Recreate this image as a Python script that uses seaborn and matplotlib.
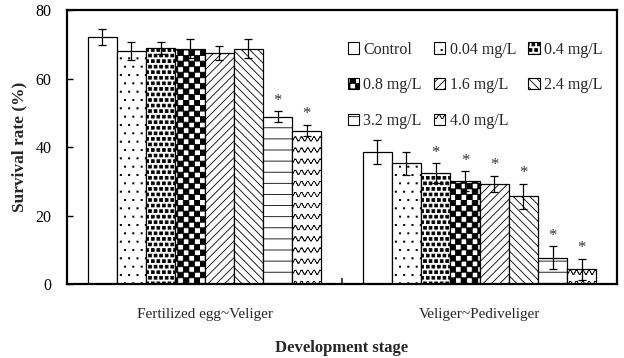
import warnings
warnings.filterwarnings("ignore")
import numpy as np
import pandas as pd
import matplotlib
matplotlib.use("Agg")
import matplotlib.pyplot as plt
import matplotlib.hatch as mhatch
from matplotlib.path import Path
from matplotlib.patches import Patch
import seaborn as sns

# ---------------- data ----------------
stages = ["Fertilized egg~Veliger", "Veliger~Pediveliger"]
treatments = ["Control", "0.04 mg/L", "0.4 mg/L", "0.8 mg/L",
              "1.6 mg/L", "2.4 mg/L", "3.2 mg/L", "4.0 mg/L"]
mean_stage1 = [72.2, 68.0, 69.0, 68.7, 67.4, 68.7, 48.9, 44.8]
err_stage1 = [2.3, 2.7, 1.7, 2.7, 2.1, 2.7, 1.5, 1.7]
mean_stage2 = [38.6, 35.2, 32.3, 30.1, 29.2, 25.6, 7.7, 4.3]
err_stage2 = [3.5, 3.4, 2.9, 2.8, 2.4, 3.6, 3.3, 3.0]
sig_stage1 = [False, False, False, False, False, False, True, True]
sig_stage2 = [False, False, True, True, True, True, True, True]
yticks = [0, 20, 40, 60, 80]


# ---------------- custom hatches ----------------
class CheckerHatch(mhatch.HatchPatternBase):
    def __init__(self, hatch, density):
        self.n = hatch.count('c') * density
        self.cells = [(i, j) for i in range(self.n) for j in range(self.n)
                      if (i + j) % 2 == 0]
        self.num_vertices = len(self.cells) * 5 if self.n else 0

    def set_vertices_and_codes(self, vertices, codes):
        s = 1.0 / self.n
        k = 0
        for i, j in self.cells:
            x0, y0 = i * s, j * s
            vertices[k:k + 5] = [[x0, y0], [x0 + s, y0], [x0 + s, y0 + s],
                                 [x0, y0 + s], [x0, y0]]
            codes[k:k + 5] = [Path.MOVETO, Path.LINETO, Path.LINETO,
                              Path.LINETO, Path.CLOSEPOLY]
            k += 5


class SquareDots(mhatch.Shapes):
    filled = True
    size = 0.5

    def __init__(self, hatch, density):
        self.num_rows = hatch.count('q') * density
        self.shape_vertices = np.array([[-0.5, -0.5], [0.5, -0.5], [0.5, 0.5],
                                        [-0.5, 0.5], [-0.5, -0.5]])
        self.shape_codes = np.array([Path.MOVETO, Path.LINETO, Path.LINETO,
                                     Path.LINETO, Path.CLOSEPOLY],
                                    dtype=Path.code_type)
        super().__init__(hatch, density)


class TinyDots(mhatch.Shapes):
    filled = True
    size = 0.14

    def __init__(self, hatch, density):
        self.num_rows = hatch.count('d') * density
        self.shape_vertices = np.array([[-0.5, -0.5], [0.5, -0.5], [0.5, 0.5],
                                        [-0.5, 0.5], [-0.5, -0.5]])
        self.shape_codes = np.array([Path.MOVETO, Path.LINETO, Path.LINETO,
                                     Path.LINETO, Path.CLOSEPOLY],
                                    dtype=Path.code_type)
        super().__init__(hatch, density)


class HLines(mhatch.HatchPatternBase):
    def __init__(self, hatch, density):
        self.n = hatch.count('h') * 9
        self.num_vertices = self.n * 2

    def set_vertices_and_codes(self, vertices, codes):
        for r in range(self.n):
            y = (r + 0.5) / self.n
            vertices[2 * r] = [0, y]
            vertices[2 * r + 1] = [1, y]
            codes[2 * r] = Path.MOVETO
            codes[2 * r + 1] = Path.LINETO


class Waves(mhatch.HatchPatternBase):
    def __init__(self, hatch, density):
        self.n = hatch.count('w') * 9
        self.periods = hatch.count('w') * 16
        self.k = 6
        self.nseg = self.periods * self.k
        self.num_vertices = self.n * self.nseg * 2

    def set_vertices_and_codes(self, vertices, codes):
        xs = np.linspace(0, 1, self.nseg + 1)
        idx = 0
        for r in range(self.n):
            y0 = (r + 0.5) / self.n
            ys = y0 + 0.2 / self.n * np.sin(2 * np.pi * self.periods * xs)
            for s in range(self.nseg):
                vertices[idx] = [xs[s], ys[s]]
                vertices[idx + 1] = [xs[s + 1], ys[s + 1]]
                codes[idx] = Path.MOVETO
                codes[idx + 1] = Path.LINETO
                idx += 2


mhatch._hatch_types.extend([CheckerHatch, SquareDots, TinyDots, HLines, Waves])

hatches = ["", "dd", "qqq", "ccc", "////", "\\\\\\\\", "h", "w"]

# ---------------- style ----------------
sns.set_theme(style="white")
plt.rcParams['font.family'] = ['Liberation Serif', 'DejaVu Serif']
plt.rcParams['hatch.linewidth'] = 0.6
plt.rcParams['hatch.color'] = 'black'

df = pd.DataFrame({
    "stage": [stages[0]] * len(treatments) + [stages[1]] * len(treatments),
    "treatment": treatments * 2,
    "rate": mean_stage1 + mean_stage2,
})

fig = plt.figure(figsize=(6.24, 3.58), dpi=100)
ax = fig.add_axes([0.1074, 0.2067, 0.8814, 0.7653])

sns.barplot(data=df, x="stage", y="rate", hue="treatment",
            order=stages, hue_order=treatments,
            palette=["white"] * len(treatments), saturation=1,
            errorbar=None, width=0.85, edgecolor="black", linewidth=0.9,
            legend=False, ax=ax)

bar_containers = list(ax.containers)[:len(treatments)]
errs = [err_stage1, err_stage2]
means = [mean_stage1, mean_stage2]
sigs = [sig_stage1, sig_stage2]
for i, cont in enumerate(bar_containers):
    for j, bar in enumerate(cont.patches):
        bar.set_hatch(hatches[i])
        bar.set_edgecolor("black")
        cx = bar.get_x() + bar.get_width() / 2
        m = means[j][i]
        e = errs[j][i]
        ax.errorbar(cx, m, yerr=e, fmt="none", ecolor="black",
                    elinewidth=0.9, capsize=3.2, capthick=0.9, zorder=5)
        if sigs[j][i]:
            ax.annotate("*", (cx, m + e), xytext=(0, 2),
                        textcoords="offset points", ha="center", va="bottom",
                        fontsize=12, color="#333333")

ax.set_ylim(0, 80)
ax.set_xlim(-0.5, 1.5)
ax.set_yticks(yticks)
ax.set_yticklabels([str(t) for t in yticks], fontsize=11.5)
ax.tick_params(axis="y", direction="in", length=4, width=1, pad=11,
               left=True, colors="black")
ax.set_xticks([0, 1])
ax.set_xticklabels(stages, fontsize=11)
ax.tick_params(axis="x", which="major", length=0, pad=17)
ax.set_xticks([0.5], minor=True)
ax.tick_params(axis="x", which="minor", direction="in", length=4, width=1.2,
               bottom=True)

for sp in ax.spines.values():
    sp.set_color("black")
    sp.set_linewidth(1.6)
    sp.set_visible(True)

ax.set_ylabel("Survival rate (%)", fontsize=12.5, fontweight="bold", labelpad=6)
ax.set_xlabel("Development stage", fontsize=12, fontweight="bold", labelpad=14)

# row-wise ordering for a 3-column legend (matplotlib fills columns first)
leg_order = [0, 3, 6, 1, 4, 7, 2, 5]
handles = [Patch(facecolor="white", edgecolor="black", hatch=hatches[k],
                 linewidth=0.8, label=treatments[k]) for k in leg_order]
ax.legend(handles=handles, loc="upper left", bbox_to_anchor=(0.51, 0.885),
          ncol=3, frameon=False, fontsize=11.5, handlelength=0.7,
          handleheight=0.7, handletextpad=0.3, columnspacing=0.75,
          labelspacing=1.25, borderaxespad=0, borderpad=0)

fig.savefig("out.png", dpi=100)
